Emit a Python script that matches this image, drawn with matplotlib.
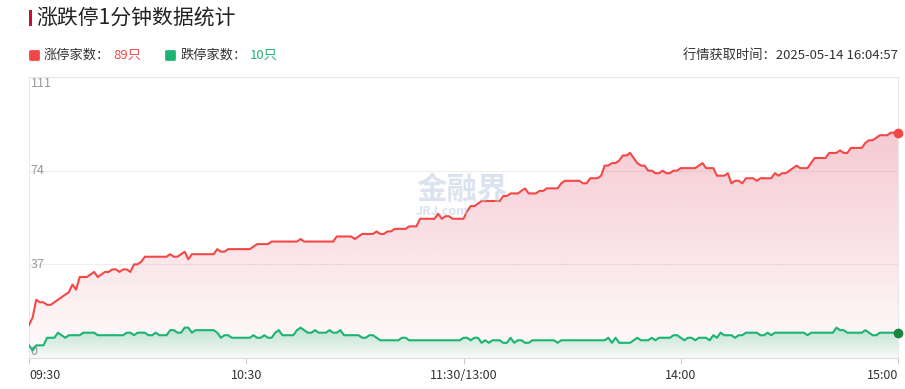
import numpy as np
import matplotlib
matplotlib.use("Agg")
import matplotlib.pyplot as plt
from matplotlib.patches import Rectangle
from matplotlib.markers import MarkerStyle
from matplotlib.lines import Line2D

plt.rcParams['font.family'] = ['Noto Sans CJK SC', 'DejaVu Sans']

# one value per minute: 09:30-11:30 (121) then 13:01-15:00 (120)
limit_up = [
    13, 16, 23, 22, 22, 21, 21, 22, 23, 24,
    25, 26, 29, 27, 32, 32, 32, 33, 34, 32,
    33, 34, 34, 35, 35, 34, 35, 35, 34, 37,
    37, 38, 40, 40, 40, 40, 40, 40, 40, 41,
    40, 40, 41, 42, 39, 41, 41, 41, 41, 41,
    41, 41, 43, 42, 42, 43, 43, 43, 43, 43,
    43, 43, 44, 45, 45, 45, 45, 46, 46, 46,
    46, 46, 46, 46, 46, 47, 46, 46, 46, 46,
    46, 46, 46, 46, 46, 48, 48, 48, 48, 48,
    47, 48, 49, 49, 49, 49, 50, 49, 49, 50,
    50, 51, 51, 51, 51, 52, 52, 52, 55, 55,
    55, 55, 55, 57, 55, 56, 56, 55, 55, 55,
    55, 58, 60, 60, 61, 62, 62, 62, 62, 62,
    62, 64, 64, 65, 65, 65, 66, 67, 65, 65,
    65, 66, 66, 67, 67, 67, 67, 69, 70, 70,
    70, 70, 70, 69, 69, 71, 71, 71, 72, 76,
    76, 77, 77, 78, 80, 80, 81, 79, 77, 76,
    76, 74, 74, 73, 73, 74, 73, 73, 74, 74,
    75, 75, 75, 75, 75, 76, 77, 75, 75, 75,
    72, 72, 72, 73, 69, 70, 70, 69, 71, 71,
    71, 70, 71, 71, 71, 71, 73, 72, 73, 73,
    74, 75, 76, 75, 75, 75, 77, 79, 79, 79,
    79, 81, 81, 81, 82, 81, 81, 83, 83, 83,
    83, 85, 86, 86, 87, 88, 88, 88, 89, 89,
    89,
]
limit_down = [
    5, 3, 5, 5, 5, 8, 8, 8, 10, 9,
    8, 9, 9, 9, 9, 10, 10, 10, 10, 9,
    9, 9, 9, 9, 9, 9, 9, 10, 10, 9,
    10, 10, 10, 9, 9, 10, 9, 9, 9, 11,
    11, 10, 10, 12, 12, 10, 11, 11, 11, 11,
    11, 11, 10, 8, 9, 9, 8, 8, 8, 8,
    8, 8, 9, 8, 8, 9, 8, 8, 10, 11,
    9, 9, 9, 9, 11, 12, 11, 10, 10, 11,
    10, 10, 10, 11, 10, 10, 11, 9, 9, 9,
    9, 9, 8, 8, 9, 9, 8, 7, 7, 7,
    7, 7, 7, 8, 8, 7, 7, 7, 7, 7,
    7, 7, 7, 7, 7, 7, 7, 7, 7, 7,
    8, 8, 7, 8, 8, 6, 7, 6, 7, 7,
    7, 6, 6, 8, 6, 7, 7, 6, 6, 7,
    7, 7, 7, 7, 7, 7, 6, 7, 7, 7,
    7, 7, 7, 7, 7, 7, 7, 7, 7, 7,
    8, 6, 8, 6, 6, 6, 6, 7, 8, 7,
    7, 7, 8, 7, 8, 8, 8, 8, 9, 9,
    8, 7, 8, 8, 7, 8, 8, 8, 7, 9,
    8, 10, 9, 9, 9, 8, 9, 9, 10, 10,
    10, 10, 9, 9, 10, 9, 10, 10, 10, 10,
    10, 10, 10, 10, 10, 9, 10, 10, 10, 10,
    10, 10, 10, 12, 11, 11, 10, 10, 10, 10,
    10, 11, 10, 9, 9, 10, 10, 10, 10, 10,
    10,
]
x_tick_pos = [0, 60, 120, 180, 240]
x_tick_labels = ['09:30', '10:30', '11:30/13:00', '14:00', '15:00']
y_ticks = [0, 37, 74, 111]

RED = '#f44848'
GREEN = '#1db472'
W, H = 905, 389


def gradient_fill(ax, x, y, rgb, a_top, a_bot, ymax, z):
    poly = ax.fill_between(x, y, 0, facecolor='none', lw=0, zorder=z)
    img = np.zeros((256, 1, 4))
    img[..., :3] = matplotlib.colors.to_rgb(rgb)
    img[:, 0, 3] = np.linspace(a_bot, a_top, 256)
    im = ax.imshow(img, extent=[x[0], x[-1], 0, ymax], origin='lower',
                   aspect='auto', zorder=z)
    im.set_clip_path(poly.get_paths()[0], transform=ax.transData)


fig = plt.figure(figsize=(W / 100, H / 100), dpi=100)

# header
fig.add_artist(Rectangle((29 / W, 1 - 26 / H), 3 / W, 16 / H,
                         transform=fig.transFigure, color='#c8102e', lw=0))
fig.text(36 / W, 1 - 18 / H, '涨跌停1分钟数据统计', fontsize=15, color='#222222',
         va='center', ha='left')

ms = MarkerStyle('s', joinstyle='round')
yl = 1 - 55 / H
fig.add_artist(Line2D([34 / W], [yl], marker=ms, markersize=5.5, mew=2,
                      color='#f04848', transform=fig.transFigure))
fig.text(44 / W, yl, '涨停家数：', fontsize=9.5, color='#333333', va='center')
fig.text(113 / W, yl, f'{limit_up[-1]}只', fontsize=9.5, color='#f04848', va='center')
fig.add_artist(Line2D([170 / W], [yl], marker=ms, markersize=5.5, mew=2,
                      color='#1db472', transform=fig.transFigure))
fig.text(181 / W, yl, '跌停家数：', fontsize=9.5, color='#333333', va='center')
fig.text(250 / W, yl, f'{limit_down[-1]}只', fontsize=9.5, color='#1db472', va='center')
fig.text(898 / W, yl, '行情获取时间：2025-05-14 16:04:57', fontsize=9.5,
         color='#333333', va='center', ha='right')

ax = fig.add_axes([29 / W, 1 - 358 / H, 869 / W, 281 / H])
x = np.arange(len(limit_up))

gradient_fill(ax, x, limit_up, '#e05a73', 0.32, 0.02, max(limit_up), 1)
gradient_fill(ax, x, limit_down, '#1db472', 0.28, 0.03, max(limit_down), 2)
ax.plot(x, limit_up, color=RED, lw=1.5, zorder=4)
ax.plot(x, limit_down, color=GREEN, lw=1.5, zorder=4)
ax.plot(x[-1], limit_up[-1], 'o', color=RED, ms=6, zorder=5, clip_on=False)
ax.plot(x[-1], limit_down[-1], 'o', color='#16873a', ms=6, zorder=5, clip_on=False)

ax.set_xlim(0, 240)
ax.set_ylim(0, 111)
for v in y_ticks[1:]:
    ax.axhline(v, color='#eeeeee', lw=0.8, zorder=0)
for s in ax.spines.values():
    s.set_color('#e8e8e8')
    s.set_linewidth(0.8)
ax.spines['bottom'].set_color('#dddddd')

ax.set_yticks([])
for v in y_ticks:
    va = 'top' if v == 111 else ('bottom' if v == 0 else 'center')
    ax.text(0.002, v, str(v), transform=ax.get_yaxis_transform(), fontsize=9,
            color='#999999', va=va, ha='left', zorder=3)

ax.set_xticks(x_tick_pos)
ax.set_xticklabels(x_tick_labels, fontsize=9, color='#333333')
ax.tick_params(axis='x', length=4, color='#cccccc', pad=4)
labels = ax.get_xticklabels()
labels[0].set_ha('left')
labels[-1].set_ha('right')

# watermark
fig.text(462 / W, 1 - 190 / H, '金融界', fontsize=22, fontweight='bold',
         color='#b9c8e2', alpha=0.5, ha='center', va='center')
fig.text(416 / W, 1 - 212 / H, 'JRJ.com', fontsize=9, fontweight='bold',
         color='#b9c8e2', alpha=0.5, ha='left', va='center')

fig.savefig('out.png', dpi=100)
